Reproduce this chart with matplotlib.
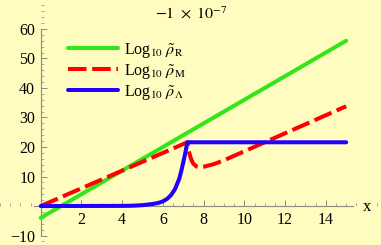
import matplotlib
matplotlib.use("Agg")
import matplotlib.pyplot as plt
from matplotlib.ticker import MultipleLocator, FixedLocator

# dados
x_rad = [0, 15]
y_rad = [-4, 56]

x_mat = [0, 7.2, 7.25, 7.3, 7.4, 7.5, 7.65, 7.8, 8.0, 8.5, 9.0, 15]
y_mat = [0, 21.6, 19.5, 17.8, 15.6, 14.3, 13.4, 13.1, 13.3, 14.2, 15.5, 33.8]

x_lam = [0, 4, 4.5, 5, 5.5, 5.8, 6, 6.2, 6.4, 6.6, 6.8, 6.9, 7.0, 7.1, 7.2, 15]
y_lam = [0, 0.05, 0.1, 0.3, 0.7, 1.1, 1.6, 2.4, 3.7, 5.8, 9.2, 11.8, 14.8, 18.0, 21.6, 21.6]

x_ticks = [2, 4, 6, 8, 10, 12, 14]
y_ticks = [-10, 10, 20, 30, 40, 50, 60]

labels = [r"Log$_{10}\ \tilde{\rho}_{\mathrm{R}}$",
          r"Log$_{10}\ \tilde{\rho}_{\mathrm{M}}$",
          r"Log$_{10}\ \tilde{\rho}_{\Lambda}$"]

plt.rcParams["font.family"] = ["Liberation Serif", "DejaVu Serif"]
plt.rcParams["mathtext.fontset"] = "stix"

FUNDO = "#fffcc0"
EIXO = "#8a8a80"

fig = plt.figure(figsize=(3.81, 2.45), dpi=100, facecolor=FUNDO)
ax = fig.add_axes([0, 0, 1, 1], facecolor=FUNDO)

ax.plot(x_rad, y_rad, color="#33e619", lw=2.9, solid_capstyle="round", label=labels[0])
ax.plot(x_mat, y_mat, color="#ff0000", lw=2.9, dashes=(4.6, 1.4), label=labels[1])
ax.plot(x_lam, y_lam, color="#2200ff", lw=2.9, solid_capstyle="round", label=labels[2])

ax.set_xlim(-2.0, 16.71)
ax.set_ylim(-13.2, 69.8)

# eixos no estilo Mathematica, cruzando na origem
for s in ["top", "right"]:
    ax.spines[s].set_visible(False)
ax.spines["left"].set_position(("data", 0))
ax.spines["bottom"].set_position(("data", 0))
ax.spines["left"].set_bounds(-10, 60)
ax.spines["bottom"].set_bounds(-0.35, 15.35)
for s in ["left", "bottom"]:
    ax.spines[s].set_color(EIXO)
    ax.spines[s].set_linewidth(0.8)
    ax.spines[s].set_zorder(0)

ax.xaxis.set_major_locator(FixedLocator(x_ticks))
ax.xaxis.set_minor_locator(MultipleLocator(0.5))
ax.yaxis.set_major_locator(FixedLocator(y_ticks))
ax.yaxis.set_minor_locator(MultipleLocator(2))
ax.tick_params(axis="both", which="both", direction="in", color=EIXO, labelsize=11.5)
ax.tick_params(axis="both", which="major", length=4, width=0.7)
ax.tick_params(axis="both", which="minor", length=2, width=0.5)
ax.tick_params(axis="x", pad=4)
ax.tick_params(axis="y", pad=4)
ax.set_yticklabels(["\u221210", "10", "20", "30", "40", "50", "60"])

ax.text(367 / 381, 1 - 207 / 245, "x", transform=fig.transFigure,
        ha="center", va="center", fontsize=12)
ax.text(191 / 381, 1 - 14 / 245, r"$-1\ \times\ 10^{-7}$", transform=fig.transFigure,
        ha="center", va="center", fontsize=11.5)

ax.legend(loc="upper left", bbox_to_anchor=(68 / 381, 1 - 41 / 245),
          frameon=False, fontsize=11.5, handlelength=3.1, handletextpad=0.4,
          labelspacing=0.12, borderpad=0, borderaxespad=0)

fig.savefig("out.png", dpi=100, facecolor=FUNDO)
